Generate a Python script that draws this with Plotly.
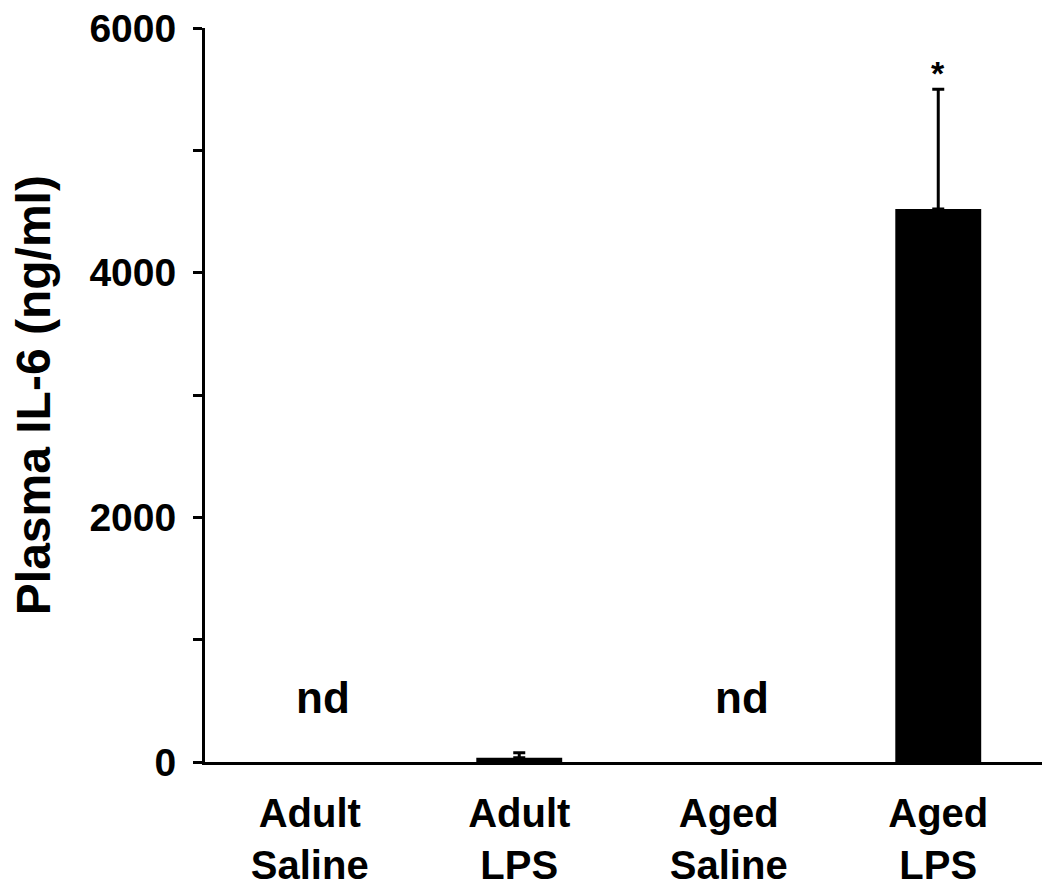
import plotly.graph_objects as go

groups = ["Adult<br>Saline", "Adult<br>LPS", "Aged<br>Saline", "Aged<br>LPS"]
il6_mean = [None, 35, None, 4520]
il6_err = [None, 40, None, 980]
notes = ["nd", "", "nd", "*"]
note_y = [530, 0, 530, 5460]

yticks = [0, 1000, 2000, 3000, 4000, 5000, 6000]
ylabels = ["0", "", "2000", "", "4000", "", "6000"]

font = "Liberation Sans, Arial, sans-serif"

fig = go.Figure()
fig.add_trace(go.Bar(
    x=groups, y=il6_mean, width=0.41,
    marker=dict(color="black", line=dict(width=0)),
    error_y=dict(type="data", array=il6_err, arrayminus=[0, 0, 0, 0],
                 symmetric=False, color="black", thickness=3, width=6),
))

for g, txt, yy in zip(groups, notes, note_y):
    if txt == "nd":
        fig.add_annotation(x=g, y=yy, text="<b>nd</b>", showarrow=False,
                           font=dict(size=44, color="black", family=font), xshift=13)
    elif txt:
        fig.add_annotation(x=g, y=yy, text="<b>" + txt + "</b>", showarrow=False, yanchor="bottom",
                           font=dict(size=34, color="black", family=font))

# y axis title as annotation so the plot area stays put
fig.add_annotation(xref="paper", yref="paper", x=-0.205, y=0.5, xanchor="center", yanchor="middle",
                   text="<b>Plasma IL-6 (ng/ml)</b>", textangle=-90, showarrow=False,
                   font=dict(size=48, color="black", family=font))

fig.update_layout(
    width=1050, height=894,
    margin=dict(l=197, r=15, t=20, b=140),
    plot_bgcolor="white", paper_bgcolor="white",
    showlegend=False,
    font=dict(family=font, color="black"),
)
fig.update_xaxes(
    showline=True, linecolor="black", linewidth=3, ticks="",
    tickfont=dict(size=40, family=font, color="black"),
    tickvals=groups, ticktext=["<b>" + g + "</b>" for g in groups],
    showgrid=False, automargin=False, ticklabelstandoff=14,
)
fig.update_yaxes(
    range=[0, 6000], showline=True, linecolor="black", linewidth=3,
    ticks="outside", ticklen=9, tickwidth=3, tickcolor="black",
    tickvals=yticks, ticktext=["<b>" + t + "</b>" for t in ylabels],
    tickfont=dict(size=39, family=font, color="black"),
    showgrid=False, zeroline=False, automargin=False, ticklabelstandoff=9,
    ticklabeloverflow="allow",
)

fig.write_html("out.html")
